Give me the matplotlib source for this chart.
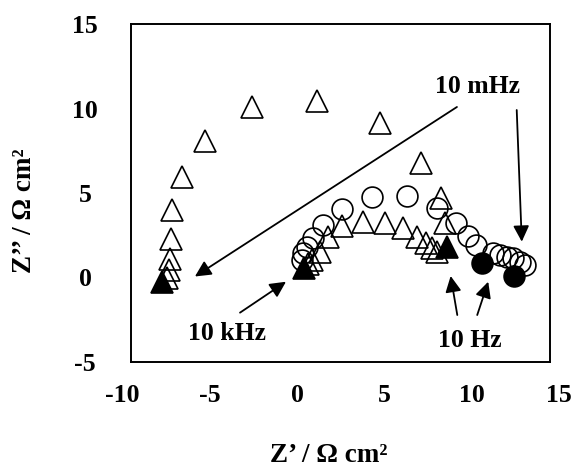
import numpy as np
import matplotlib
matplotlib.use("Agg")
import matplotlib.pyplot as plt
from matplotlib.transforms import blended_transform_factory

plt.rcParams['font.family'] = ['Liberation Serif', 'DejaVu Serif']
plt.rcParams['font.weight'] = 'bold'

# big arc, open triangles
arc_tri_x = [-7.42, -7.31, -7.27, -7.23, -7.13, -6.60, -5.25, -2.56, 1.16, 4.75, 7.08, 8.21, 8.47]
arc_tri_y = [-0.05, 0.44, 1.08, 2.26, 4.00, 5.94, 8.05, 10.11, 10.46, 9.12, 6.80, 4.69, 3.22]

# small arc, open triangles
small_tri_x = [0.62, 0.84, 1.32, 1.79, 2.59, 3.79, 5.03, 6.08, 6.85, 7.38, 7.70, 7.99]
small_tri_y = [0.80, 1.04, 1.53, 2.41, 3.07, 3.30, 3.24, 2.91, 2.41, 2.02, 1.73, 1.53]

# open circles
circ_x = [0.27, 0.36, 0.55, 0.93, 1.51, 2.56, 4.27, 6.28, 7.99, 9.10, 9.80, 10.24,
          11.23, 11.61, 11.99, 12.37, 12.76, 13.04]
circ_y = [1.04, 1.43, 1.82, 2.32, 3.11, 4.05, 4.78, 4.82, 4.09, 3.21, 2.47, 1.92,
          1.43, 1.33, 1.23, 1.14, 0.94, 0.74]

# filled markers
fill_tri_x = [-7.74, 0.40, 8.56]
fill_tri_y = [-0.25, 0.54, 1.82]
fill_circ_x = [10.56, 12.41]
fill_circ_y = [0.84, 0.09]

xticks = [-10, -5, 0, 5, 10, 15]
yticks = [-5, 0, 5, 10, 15]

# annotations: (text, text position, [(arrow start, arrow tip), ...])
notes = [
    ("10 mHz", (10.30, 11.33), [((9.15, 10.09), (-5.84, 0.06)), ((12.57, 9.91), (12.86, 2.12))]),
    ("10 kHz", (-4.0, -3.34), [((-3.26, -2.08), (-0.63, -0.25))]),
    ("10 Hz", (9.91, -3.70), [((9.17, -2.22), (8.79, 0.09)), ((10.31, -2.22), (10.94, -0.25))]),
]

fig = plt.figure(figsize=(5.74, 4.68), dpi=100)
ax = fig.add_axes([131/574, 106/468, 419/574, 338/468])

ms_t, ms_c, mew = 16, 15, 1.2
ax.plot(arc_tri_x, arc_tri_y, ls='none', marker='^', ms=ms_t, mfc='none', mec='black', mew=mew)
ax.plot(small_tri_x, small_tri_y, ls='none', marker='^', ms=ms_t, mfc='none', mec='black', mew=mew)
ax.plot(circ_x, circ_y, ls='none', marker='o', ms=ms_c, mfc='none', mec='black', mew=mew)
ax.plot(fill_tri_x, fill_tri_y, ls='none', marker='^', ms=ms_t, mfc='black', mec='black', mew=mew)
ax.plot(fill_circ_x, fill_circ_y, ls='none', marker='o', ms=ms_c, mfc='black', mec='black', mew=mew)

for label, pos, arrows in notes:
    ax.text(pos[0], pos[1], label, fontsize=18.5, fontweight='bold', ha='center', va='center')
    for start, tip in arrows:
        ax.annotate('', xy=tip, xytext=start,
                    arrowprops=dict(arrowstyle='-|>', color='black', lw=1.3,
                                    mutation_scale=24, shrinkA=0, shrinkB=0))

ax.set_xlim(-9.497, 14.474)
ax.set_ylim(-5, 15)

ax.set_yticks(yticks)
ax.set_yticklabels([str(v) for v in yticks], fontsize=18.5, fontweight='bold')
ax.tick_params(axis='y', length=0, pad=33)
for lbl in ax.get_yticklabels():
    lbl.set_ha('center')

ax.set_xticks([])
trans = blended_transform_factory(ax.transData, ax.transAxes)
for v in xticks:
    ax.text(v, -0.098, str(v), transform=trans, fontsize=18.5, fontweight='bold',
            ha='center', va='center', clip_on=False)

for sp in ax.spines.values():
    sp.set_linewidth(1.4)

fig.text(328.8/574, 1 - 455/468, 'Z’ / Ω cm²', fontsize=19.5, fontweight='bold', ha='center', va='center')
fig.text(25/574, 1 - 210.7/468, 'Z’’ / Ω cm²', fontsize=19.5, fontweight='bold', ha='center', va='center',
         rotation=90)

fig.savefig('out.png', dpi=100)
